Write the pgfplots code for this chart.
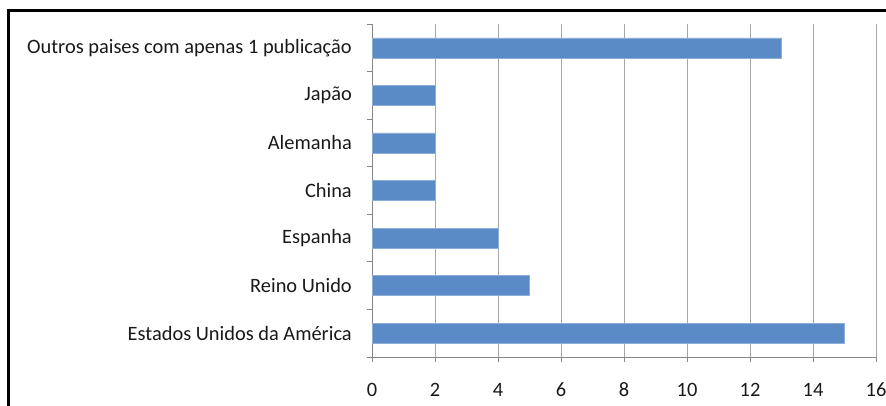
\documentclass[border=0pt]{standalone}
\usepackage{pgfplots}
\pgfplotsset{compat=1.18}
\usepackage{fontspec}
\setmainfont{Carlito}
\definecolor{barblue}{HTML}{5B8BC6}
\definecolor{gridgray}{HTML}{A6A6A6}
\definecolor{axisgray}{HTML}{868686}
\begin{document}
\begin{tikzpicture}[x=1pt,y=1pt]
\useasboundingbox (0,0) rectangle (886,405);
\begin{axis}[
  scale only axis,
  width=504pt, height=333pt,
  at={(372pt,48pt)}, anchor=south west,
  xmin=0, xmax=16, ymin=-0.5, ymax=6.5,
  xtick={0,2,...,16},
  axis x line*=bottom, axis y line*=left,
  axis line style={axisgray, line width=0.8pt, -},
  xmajorgrids, major grid style={gridgray, line width=0.8pt},
  tick align=outside, major tick length=5pt,
  tick style={axisgray, line width=0.8pt},
  ytick={-0.5,0.5,...,6.5}, yticklabels={},
  extra y ticks={0,1,2,3,4,5,6},
  extra y tick labels={Estados Unidos da América, Reino Unido, Espanha, China, Alemanha, Japão, Outros paises com apenas 1 publicação},
  extra y tick style={tick style={draw=none}, yticklabel style={inner sep=0pt, xshift=-15pt}},
  tick label style={font=\fontsize{20.4}{24}\selectfont, text=black!90},
  xticklabel style={inner sep=0pt, text height=13pt, text depth=0pt, yshift=-21pt},
  /pgf/number format/assume math mode=true,
  xbar, bar width=20pt,
]
\addplot[fill=barblue, draw=barblue!70!white] coordinates {
  (15,0) (5,1) (4,2) (2,3) (2,4) (2,5) (13,6)
};
\end{axis}
\draw[line width=3pt, black] (8,-5) -- (8,394) -- (895,394);
\end{tikzpicture}
\end{document}
